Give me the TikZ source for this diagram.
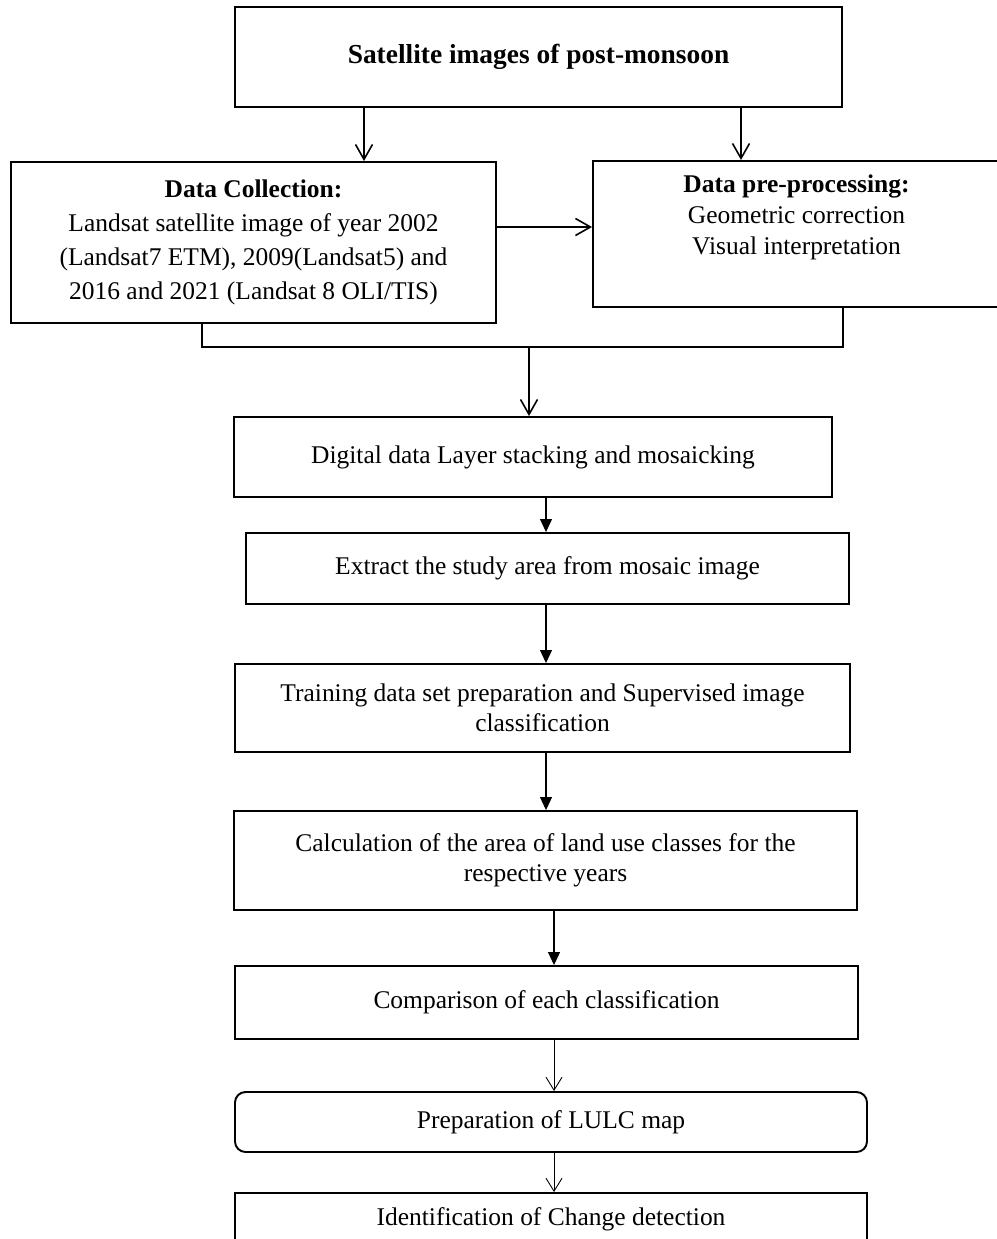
\documentclass[tikz,border=0pt]{standalone}
\usepackage{fontspec}
\setmainfont{Liberation Serif}
\usetikzlibrary{arrows.meta,positioning,calc}
\tikzset{
  box/.style={draw=black, line width=1.1pt, align=center, fill=white, inner sep=0pt},
  roundbox/.style={box, rounded corners=6pt},
  arrow/.style={-{Triangle[length=2.6mm,width=2.4mm]}, line width=0.6pt},
  openarrow/.style={-{Straight Barb[length=3mm,width=3.4mm]}, line width=0.9pt},
  thinarrow/.style={-{Straight Barb[length=2.6mm,width=3.2mm]}, line width=0.5pt},
  link/.style={line width=0.7pt}
}

\begin{document}
\begin{tikzpicture}[x=0.2mm, y=-0.2mm, font=\fontsize{14.5}{17}\selectfont]
  \useasboundingbox (0,0) rectangle (996,1239);

  \node[box, minimum width=121.4mm, minimum height=20mm, font=\fontsize{15.6}{18}\selectfont\bfseries] (top) at (538.5,57) {Satellite images of post-monsoon};
  \node[box, minimum width=97mm, minimum height=32.2mm, font=\fontsize{14.5}{19.3}\selectfont] (collect) at (253.5,242.5) {\textbf{Data Collection:}\\Landsat satellite image of year 2002\\(Landsat7 ETM), 2009(Landsat5) and\\2016 and 2021 (Landsat 8 OLI/TIS)};
  \node[box, minimum width=81.4mm, minimum height=29.2mm] (prep) at (796.5,234) {};
  \node[align=center, inner sep=0pt, font=\fontsize{14.5}{17.6}\selectfont] (preptext) at (796.5,217) {\textbf{Data pre-processing:}\\Geometric correction\\Visual interpretation};

  \node[box, minimum width=119.6mm, minimum height=16mm] (digital) at (533,457) {Digital data Layer stacking and mosaicking};
  \node[box, minimum width=120.6mm, minimum height=14.2mm] (extract) at (547.5,568.5) {Extract the study area from mosaic image};
  \node[box, minimum width=123mm, minimum height=17.6mm] (train) at (542.5,708) {Training data set preparation and Supervised image\\classification};
  \node[box, minimum width=124.6mm, minimum height=19.8mm] (calc) at (545.5,860.5) {Calculation of the area of land use classes for the\\respective years};
  \node[box, minimum width=124.6mm, minimum height=14.6mm] (comp) at (546.5,1002.5) {Comparison of each classification};
  \node[roundbox, minimum width=126.4mm, minimum height=12mm] (lulc) at (551,1122) {Preparation of LULC map};
  \node[box, minimum width=126.4mm, minimum height=10.4mm] (ident) at (551,1219) {Identification of Change detection};

  % arrow positions
  \coordinate (a1) at (364,0);
  \coordinate (a2) at (741,0);
  \coordinate (a3) at (0,227);
  \coordinate (j1) at (202,347);
  \coordinate (j2) at (843,347);
  \coordinate (j3) at (529,347);
  \coordinate (m1) at (546,0);
  \coordinate (m2) at (554,0);

  \draw[openarrow] (a1 |- top.south) -- (a1 |- collect.north);
  \draw[openarrow] (a2 |- top.south) -- (a2 |- prep.north);
  \draw[openarrow] (collect.east |- a3) -- (prep.west |- a3);

  \draw[link] (j1 |- collect.south) -- (j1) -- (j2) -- (j2 |- prep.south);
  \draw[openarrow] (j3) -- (j3 |- digital.north);

  \draw[arrow] (m1 |- digital.south) -- (m1 |- extract.north);
  \draw[arrow] (m1 |- extract.south) -- (m1 |- train.north);
  \draw[arrow] (m1 |- train.south) -- (m1 |- calc.north);
  \draw[arrow] (m2 |- calc.south) -- (m2 |- comp.north);
  \draw[thinarrow] (m2 |- comp.south) -- (m2 |- lulc.north);
  \draw[thinarrow] (m2 |- lulc.south) -- (m2 |- ident.north);
\end{tikzpicture}
\end{document}
